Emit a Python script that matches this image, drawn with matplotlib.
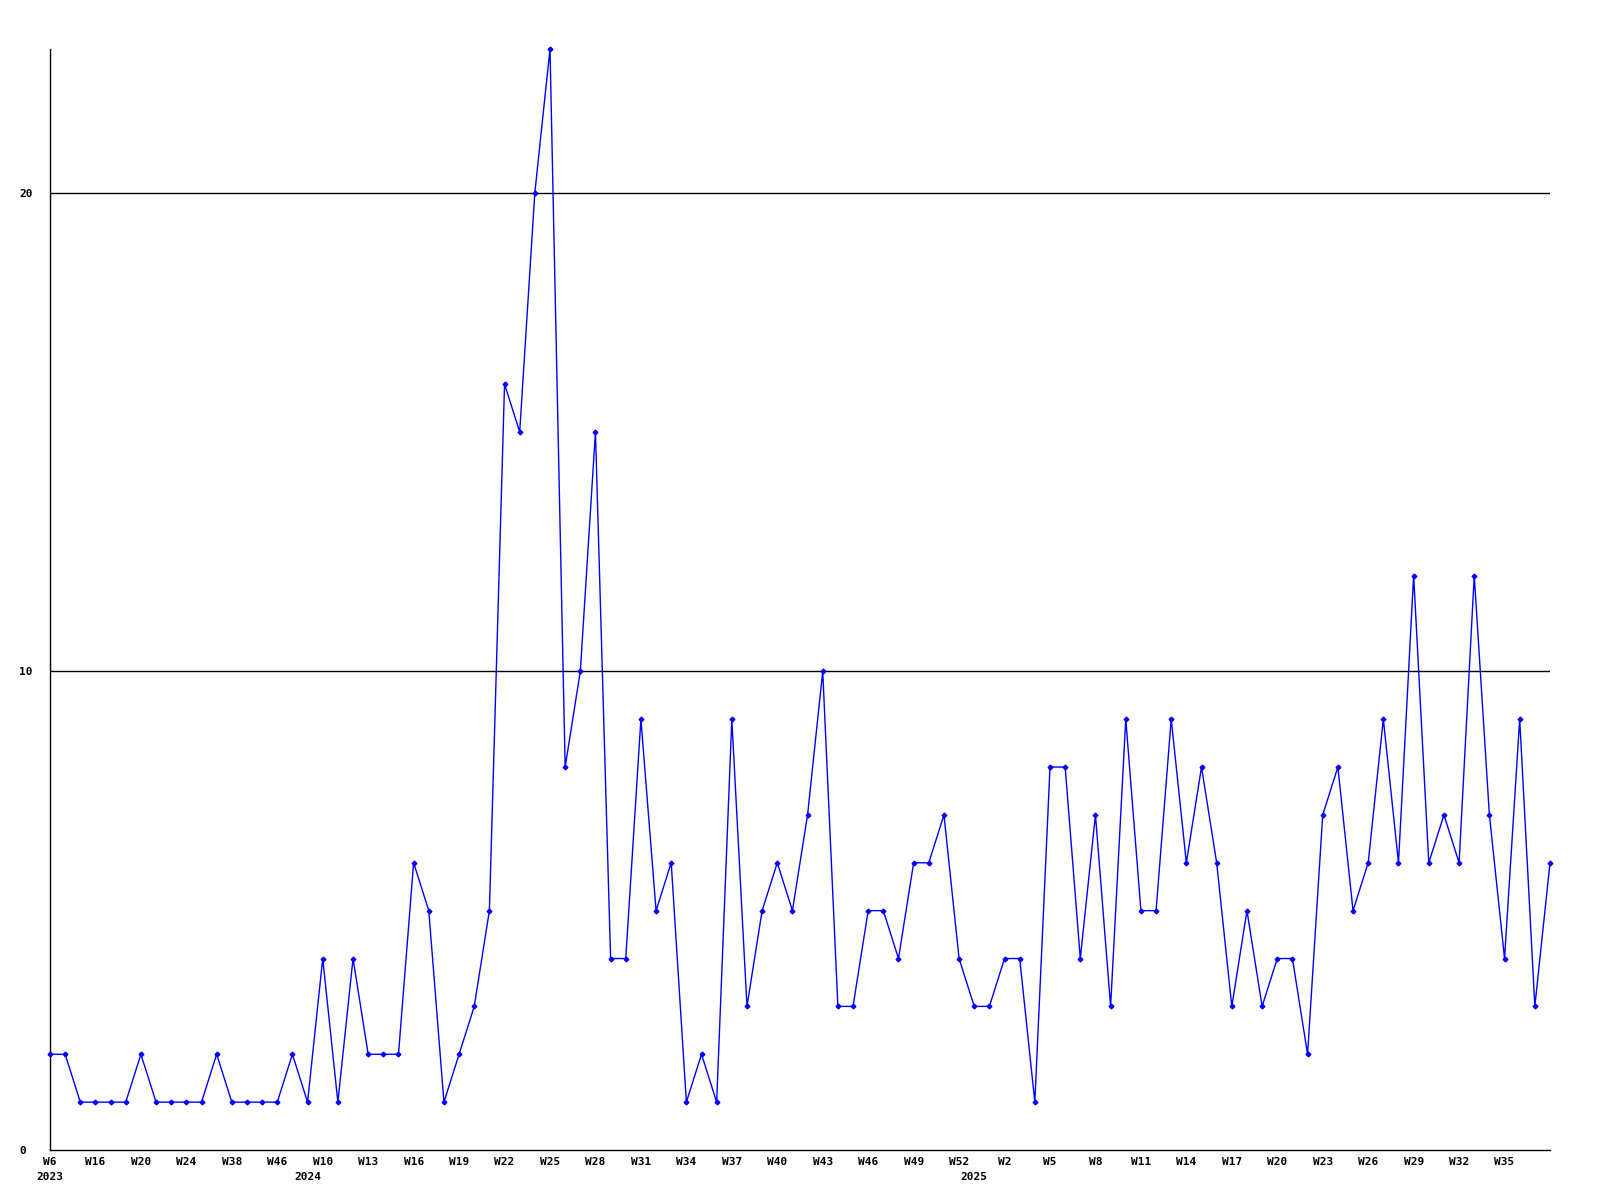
# weekly counts, 2023 W6 .. 2025 W37
import matplotlib.pyplot as plt

values = [2, 2, 1, 1, 1, 1, 2, 1, 1, 1,
          1, 2, 1, 1, 1, 1, 2, 1, 4, 1,
          4, 2, 2, 2, 6, 5, 1, 2, 3, 5,
          16, 15, 20, 23, 8, 10, 15, 4, 4, 9,
          5, 6, 1, 2, 1, 9, 3, 5, 6, 5,
          7, 10, 3, 3, 5, 5, 4, 6, 6, 7,
          4, 3, 3, 4, 4, 1, 8, 8, 4, 7,
          3, 9, 5, 5, 9, 6, 8, 6, 3, 5,
          3, 4, 4, 2, 7, 8, 5, 6, 9, 6,
          12, 6, 7, 6, 12, 7, 4, 9, 3, 6]

week_labels = ["W6", "W16", "W20", "W24", "W38", "W46", "W10", "W13", "W16",
               "W19", "W22", "W25", "W28", "W31", "W34", "W37", "W40", "W43",
               "W46", "W49", "W52", "W2", "W5", "W8", "W11", "W14", "W17",
               "W20", "W23", "W26", "W29", "W32", "W35"]
label_every = 3

years = ["2023", "2024", "2025"]
year_pos = [0, 17, 61]

x = list(range(len(values)))

plt.rcParams['font.family'] = 'DejaVu Sans Mono'
plt.rcParams['font.weight'] = 'bold'
plt.rcParams['font.size'] = 8

fig = plt.figure(figsize=(16, 12), dpi=100)
ax = fig.add_axes([50 / 1600, 50 / 1200, 1500 / 1600, 1101 / 1200])

for g in [10, 20]:
    ax.axhline(g, color='black', linewidth=1, zorder=1)

ax.plot(x, values, color='blue', linewidth=1, marker='D', markersize=2.4,
        zorder=3, clip_on=False)

ax.set_xlim(0, len(values) - 1)
ax.set_ylim(0, max(values))

ax.set_xticks(x[:len(week_labels) * label_every:label_every])
ax.set_xticklabels(week_labels)
ax.set_yticks([0, 10, 20])
ax.set_yticklabels(["0", "10", "20"], ha='left')
ax.tick_params(axis='x', length=0, pad=5)
ax.tick_params(axis='y', length=0, pad=22)

for yr, p in zip(years, year_pos):
    ax.text(p, -0.02, yr, transform=ax.get_xaxis_transform(),
            ha='center', va='top', fontsize=8, fontweight='bold')

ax.spines['top'].set_visible(False)
ax.spines['right'].set_visible(False)
ax.spines['left'].set_linewidth(1)
ax.spines['bottom'].set_linewidth(1)

fig.savefig('out.png', dpi=100)
